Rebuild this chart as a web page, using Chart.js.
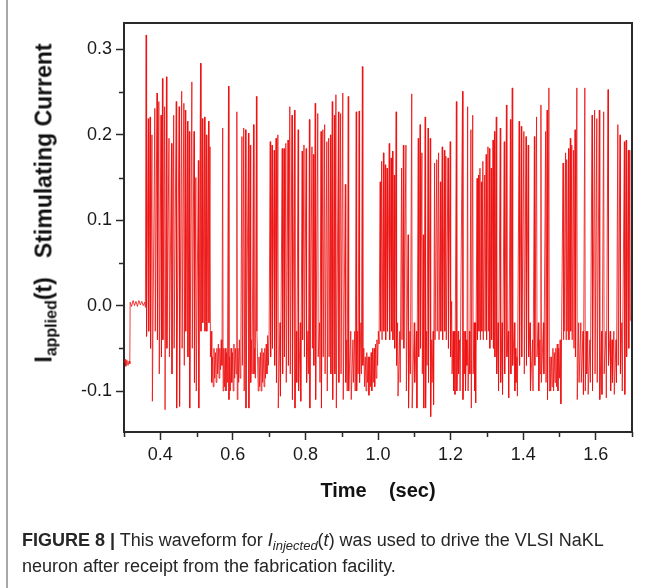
<!DOCTYPE html>
<html>
<head>
<meta charset="utf-8">
<script src="https://cdn.jsdelivr.net/npm/chart.js@4.4.1/dist/chart.umd.min.js"></script>
<style>
  body { margin: 0; background: #fff; }
  #wrap { position: relative; width: 654px; height: 588px; overflow: hidden; font-family: "Liberation Sans", Arial, sans-serif; }
  #chart { position: absolute; left: 0; top: 0; }
  .frame { position: absolute; left: 6px; top: 0; width: 2px; height: 588px; background: #a8a8a8; }
  .ytitle { position: absolute; left: 44px; top: 203px; white-space: nowrap; font-weight: bold; font-size: 23px; color: #111;
            transform: translate(-50%, -50%) rotate(-90deg); }
  .ytitle sub { font-size: 16px; vertical-align: -5px; line-height: 0; }
  .xtitle { position: absolute; left: 378px; top: 490px; white-space: pre; font-weight: bold; font-size: 20px; color: #111;
            transform: translate(-50%, -50%); }
  .caption { position: absolute; left: 22px; top: 527px; font-size: 18px; line-height: 26px; color: #262626; white-space: nowrap; }
  .caption sub { font-size: 13px; line-height: 0; vertical-align: -4px; }
</style>
</head>
<body>
<div id="wrap">
  <canvas id="chart" width="654" height="588"></canvas>
  <div class="frame"></div>
  <div class="ytitle">I<sub>applied</sub>(t)&nbsp;&nbsp;&nbsp;Stimulating Current</div>
  <div class="xtitle">Time    (sec)</div>
  <div class="caption"><b>FIGURE 8 |</b> This waveform for <i>I<sub>injected</sub></i>(<i>t</i>) was used to drive the VLSI NaKL<br>neuron after receipt from the fabrication facility.</div>
</div>
<script>
// spikes: time (s), peak and following trough (current)
const spikeTimes = [
  0.361,0.367,0.372,0.377,0.385,0.391,0.396,0.402,
  0.406,0.412,0.417,0.424,0.431,0.437,0.444,0.452,
  0.459,0.465,0.469,0.475,0.480,0.487,0.493,0.498,
  0.505,0.511,0.516,0.522,0.527,0.533,0.537,
  0.572,0.588,0.611,0.625,0.630,0.635,0.643,0.648,
  0.657,0.665,0.703,0.708,0.714,0.719,0.724,0.730,
  0.736,0.741,0.746,0.752,0.757,0.763,
  0.770,0.775,0.780,0.786,0.791,0.796,0.802,0.807,
  0.811,0.818,0.822,0.827,0.834,0.839,0.843,0.848,
  0.853,0.859,0.864,0.869,0.874,0.880,0.884,0.891,
  0.897,0.903,0.910,0.914,0.918,0.925,0.931,0.936,
  0.940,0.944,0.948,0.953,0.957,
  1.006,1.010,1.015,1.020,1.025,1.031,1.036,1.040,
  1.045,1.050,1.054,1.060,1.065,1.070,1.077,1.083,
  1.088,1.093,1.100,1.106,1.111,1.116,1.121,1.125,
  1.130,1.134,1.138,1.144,1.148,1.152,1.156,1.162,
  1.167,1.172,1.177,1.183,1.187,1.193,1.199,1.203,
  1.207,1.211,1.216,1.221,1.225,
  1.233,1.237,1.240,1.244,1.247,1.252,1.256,1.261,
  1.265,1.268,1.273,1.277,1.281,1.285,1.289,1.294,
  1.298,1.303,1.307,1.312,1.317,1.321,1.326,1.331,
  1.337,1.342,1.348,1.354,1.359,1.365,1.370,1.376,
  1.379,1.383,1.389,1.395,1.402,1.408,1.414,1.419,
  1.426,1.431,1.437,1.442,1.446,1.449,1.456,
  1.462,1.466,1.471,1.510,1.512,1.517,1.520,1.525,
  1.530,1.534,1.539,1.543,1.548,1.553,1.559,1.565,
  1.570,1.574,1.578,1.584,1.590,1.597,1.603,1.610,
  1.616,1.622,1.628,1.634,1.640,1.645,1.650,1.656,
  1.661,1.667,1.672,1.679,1.684,1.690,1.694
];
const spikePeaks = [
  0.317,0.219,0.221,0.200,0.231,0.249,0.239,0.223,
  0.266,0.233,0.268,0.196,0.190,0.223,0.239,0.233,
  0.251,0.237,0.229,0.216,0.204,0.262,0.204,0.150,
  0.170,0.284,0.219,0.221,0.200,0.216,0.186,
  0.208,0.257,0.227,0.198,0.208,0.206,0.202,0.188,
  0.212,0.245,0.192,0.188,0.182,0.196,0.200,-0.020,
  0.184,0.184,0.190,0.194,0.233,0.223,
  0.229,-0.030,0.206,-0.020,0.181,0.188,0.184,-0.030,
  0.218,0.186,0.177,0.237,0.225,-0.020,0.204,0.206,
  0.212,0.192,0.196,0.200,0.239,0.223,0.247,0.227,
  0.225,0.249,0.142,-0.040,0.245,-0.030,-0.040,-0.030,
  0.227,-0.030,0.228,-0.020,0.280,
  0.145,0.169,0.179,0.165,0.161,0.190,0.173,0.181,
  0.153,0.227,-0.020,-0.030,0.161,0.188,0.188,0.083,
  -0.030,0.248,-0.020,-0.030,0.196,0.212,0.179,0.083,
  0.221,-0.030,0.208,0.196,-0.040,-0.030,0.167,0.171,
  0.179,0.145,0.186,0.182,0.175,0.173,0.192,0.005,
  -0.030,-0.030,0.239,-0.030,-0.040,
  0.251,-0.030,-0.030,-0.040,0.233,-0.030,0.206,0.223,
  -0.020,-0.020,0.149,0.153,0.161,0.145,0.169,0.153,
  0.177,0.186,0.184,0.161,0.194,0.204,0.221,-0.020,
  0.208,-0.020,0.192,0.235,-0.030,0.218,0.255,-0.020,
  -0.050,-0.060,0.216,0.210,0.204,0.198,0.188,-0.020,
  -0.040,0.198,0.221,-0.020,-0.040,0.235,-0.020,
  0.204,0.229,0.255,0.167,0.157,0.179,0.171,0.184,
  0.196,0.188,0.182,0.206,0.255,-0.020,-0.020,-0.030,
  0.255,-0.030,-0.030,-0.040,0.223,0.229,0.219,0.229,
  -0.030,0.227,-0.030,0.253,-0.030,-0.040,-0.030,-0.040,
  0.212,0.200,-0.020,0.192,0.194,0.182,0.182
];
const spikeTroughs = [
  -0.036,-0.030,-0.050,-0.112,-0.030,-0.040,-0.080,-0.060,
  -0.040,-0.122,-0.050,-0.060,-0.080,-0.050,-0.120,-0.118,
  -0.050,-0.070,-0.030,-0.060,-0.120,-0.050,-0.090,-0.100,
  -0.120,-0.030,-0.020,-0.030,-0.030,-0.020,-0.060,
  -0.100,-0.110,-0.110,-0.070,-0.100,-0.120,-0.120,-0.090,
  -0.080,-0.030,-0.060,-0.050,-0.070,-0.090,-0.120,-0.106,
  -0.080,-0.060,-0.090,-0.070,-0.080,-0.110,
  -0.120,-0.090,-0.100,-0.112,-0.040,-0.060,-0.090,-0.080,
  -0.120,-0.050,-0.070,-0.110,-0.060,-0.090,-0.120,-0.060,
  -0.080,-0.100,-0.060,-0.080,-0.110,-0.080,-0.120,-0.090,
  -0.080,-0.110,-0.090,-0.100,-0.100,-0.110,-0.090,-0.100,
  -0.100,-0.080,-0.090,-0.080,-0.070,
  -0.030,-0.040,-0.030,-0.040,-0.030,-0.040,-0.030,-0.040,
  -0.050,-0.070,-0.106,-0.090,-0.040,-0.050,-0.100,-0.120,
  -0.080,-0.120,-0.090,-0.120,-0.060,-0.050,-0.080,-0.120,
  -0.120,-0.070,-0.090,-0.130,-0.090,-0.116,-0.040,-0.030,
  -0.040,-0.030,-0.040,-0.030,-0.040,-0.050,-0.060,-0.080,
  -0.100,-0.104,-0.100,-0.080,-0.100,
  -0.110,-0.080,-0.100,-0.070,-0.100,-0.080,-0.120,-0.080,
  -0.100,-0.114,-0.040,-0.030,-0.040,-0.030,-0.040,-0.030,
  -0.040,-0.030,-0.050,-0.040,-0.050,-0.060,-0.080,-0.100,
  -0.090,-0.104,-0.080,-0.060,-0.108,-0.080,-0.070,-0.100,
  -0.090,-0.106,-0.070,-0.060,-0.080,-0.070,-0.060,-0.100,
  -0.100,-0.070,-0.060,-0.100,-0.080,-0.090,-0.080,
  -0.090,-0.110,-0.100,-0.040,-0.030,-0.040,-0.030,-0.040,
  -0.030,-0.040,-0.050,-0.060,-0.110,-0.090,-0.090,-0.104,
  -0.100,-0.080,-0.104,-0.090,-0.100,-0.080,-0.090,-0.110,
  -0.104,-0.080,-0.108,-0.070,-0.100,-0.090,-0.104,-0.090,
  -0.070,-0.080,-0.100,-0.104,-0.060,-0.050,-0.015
];

// quiet stretches between bursts (holding level and small ripple)
const restTimes = [
  0.300,0.303,0.305,0.308,0.311,0.314,0.316,0.317,0.321,0.325,
  0.329,0.333,0.337,0.341,0.345,0.349,0.353,0.357,0.359,
  0.540,0.542,0.544,0.546,0.548,0.550,0.552,0.554,0.556,0.558,
  0.560,0.562,0.564,0.566,0.568,0.570,
  0.575,0.577,0.579,0.581,0.583,0.585,
  0.591,0.593,0.595,0.597,0.599,0.601,0.603,0.605,0.607,0.609,
  0.614,0.616,0.618,0.620,0.622,
  0.651,0.653,0.660,0.662,
  0.668,0.670,0.672,0.674,0.676,0.678,0.680,0.682,0.684,0.686,
  0.688,0.690,0.692,0.694,0.696,0.698,0.700,
  0.961,0.963,0.965,0.967,0.969,0.971,0.973,0.975,0.977,0.979,
  0.981,0.983,0.985,0.987,0.989,0.991,0.993,0.995,0.997,0.999,
  1.001,1.003,
  1.474,1.476,1.478,1.480,1.482,1.484,1.486,1.488,1.490,1.492,
  1.494,1.496,1.498,1.500,1.502,1.504,1.506,
  1.699
];
const restValues = [
  -0.067,-0.063,-0.071,-0.064,-0.070,-0.065,-0.068,0.004,-0.001,0.006,
  0.000,0.005,-0.001,0.006,0.001,0.005,0.000,0.004,-0.002,
  -0.030,-0.090,-0.060,-0.095,-0.050,-0.085,-0.055,-0.090,-0.050,-0.080,
  -0.045,-0.085,-0.050,-0.075,-0.040,-0.070,
  -0.050,-0.095,-0.050,-0.100,-0.055,-0.090,
  -0.060,-0.100,-0.050,-0.090,-0.055,-0.100,-0.045,-0.085,-0.050,-0.080,
  -0.050,-0.090,-0.040,-0.085,-0.050,
  -0.040,-0.080,-0.050,-0.085,
  -0.060,-0.100,-0.060,-0.095,-0.055,-0.100,-0.050,-0.090,-0.055,-0.095,
  -0.050,-0.085,-0.045,-0.080,-0.035,-0.070,-0.030,
  -0.050,-0.095,-0.060,-0.100,-0.055,-0.090,-0.060,-0.105,-0.060,-0.095,
  -0.055,-0.100,-0.050,-0.090,-0.050,-0.095,-0.045,-0.085,-0.040,-0.070,
  -0.030,-0.045,
  -0.060,-0.100,-0.060,-0.095,-0.050,-0.100,-0.055,-0.090,-0.050,-0.095,
  -0.045,-0.100,-0.050,-0.085,-0.040,-0.115,-0.030,
  -0.020
];

const xMajor = [0.4, 0.6, 0.8, 1.0, 1.2, 1.4, 1.6];
const xMinor = [0.3, 0.5, 0.7, 0.9, 1.1, 1.3, 1.5, 1.7];
const yMinor = [-0.05, 0.05, 0.15, 0.25];

const FALL = 0.0012; // time from spike peak to its undershoot
const FONT = "'Liberation Sans', Arial, sans-serif";
const AXIS = '#2a2a2a';

const points = [];
restTimes.forEach((t, i) => points.push({ x: t, y: restValues[i] }));
spikeTimes.forEach((t, i) => {
  points.push({ x: t, y: spikePeaks[i] });
  points.push({ x: t + FALL, y: spikeTroughs[i] });
});
points.sort((a, b) => a.x - b.x);

const extraTicks = {
  id: 'extraTicks',
  afterDraw(chart) {
    const { ctx, chartArea: a, scales: { x, y } } = chart;
    ctx.save();
    ctx.strokeStyle = AXIS;
    ctx.lineWidth = 1.5;
    ctx.beginPath();
    xMinor.forEach(v => {
      const px = Math.round(x.getPixelForValue(v)) + 0.5;
      ctx.moveTo(px, a.bottom); ctx.lineTo(px, a.bottom + 5);
    });
    yMinor.forEach(v => {
      const py = Math.round(y.getPixelForValue(v)) + 0.5;
      ctx.moveTo(a.left, py); ctx.lineTo(a.left - 5, py);
    });
    ctx.stroke();
    ctx.lineWidth = 2;
    ctx.beginPath();
    ctx.moveTo(a.left, a.top); ctx.lineTo(a.right, a.top); ctx.lineTo(a.right, a.bottom);
    ctx.stroke();
    ctx.restore();
  }
};

new Chart(document.getElementById('chart'), {
  type: 'line',
  data: {
    datasets: [{
      data: points,
      borderColor: 'rgba(236, 16, 16, 0.8)',
      borderWidth: 1,
      pointRadius: 0,
      tension: 0,
      fill: false
    }]
  },
  options: {
    responsive: false,
    animation: false,
    devicePixelRatio: 1,
    layout: { padding: { left: 0, top: 23, right: 22, bottom: 100 } },
    plugins: { legend: { display: false }, tooltip: { enabled: false } },
    scales: {
      x: {
        type: 'linear',
        min: 0.3,
        max: 1.7,
        afterBuildTicks: s => { s.ticks = xMajor.map(v => ({ value: v })); },
        afterFit: s => { s.height = 56; },
        border: { display: true, color: AXIS, width: 2 },
        grid: { display: true, drawOnChartArea: false, tickLength: 8, tickColor: AXIS, tickWidth: 1.5 },
        ticks: {
          autoSkip: false, maxRotation: 0, padding: 4, color: '#1a1a1a',
          font: { family: FONT, size: 18 },
          callback: v => v.toFixed(1)
        }
      },
      y: {
        type: 'linear',
        min: -0.148,
        max: 0.331,
        afterFit: s => { s.width = 124; },
        border: { display: true, color: AXIS, width: 2 },
        grid: { display: true, drawOnChartArea: false, tickLength: 8, tickColor: AXIS, tickWidth: 1.5 },
        ticks: {
          stepSize: 0.1, includeBounds: false, padding: 4, color: '#1a1a1a',
          font: { family: FONT, size: 18 },
          callback: v => v.toFixed(1)
        }
      }
    }
  },
  plugins: [extraTicks]
});
</script>
</body>
</html>
